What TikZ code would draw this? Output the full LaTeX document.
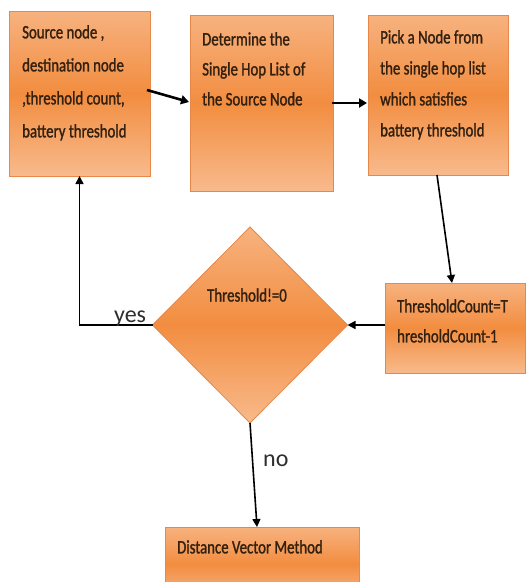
\documentclass[tikz,border=0pt]{standalone}
\usepackage{fontspec}
\setmainfont{Carlito}
\newfontfamily\boxfont[FakeStretch=0.78,FakeBold=1.3]{Carlito}
\usetikzlibrary{shapes.geometric,arrows.meta,calc}
\definecolor{otop}{HTML}{F7B27F}
\definecolor{omid}{HTML}{F28D40}
\definecolor{obot}{HTML}{F8BA8C}
\definecolor{oedge}{HTML}{E5884A}
\definecolor{txt}{HTML}{33200F}
\definecolor{lbl}{HTML}{2E2E2E}
\begin{document}
\begin{tikzpicture}[x=1pt,y=-1pt,
  box/.style={draw=oedge, line width=0.8pt, top color=otop, bottom color=obot, middle color=omid, inner sep=0pt, outer sep=0pt},
  dia/.style={diamond, draw=oedge, line width=0.8pt, top color=otop, bottom color=obot, middle color=omid, inner sep=0pt, outer sep=0pt, minimum width=195pt, minimum height=196pt},
  btxt/.style={anchor=north west, inner sep=0pt, align=left, text=txt},
  flow/.style={draw=black, line width=1.6pt, -{Triangle[length=8pt,width=8pt]}},
  bigflow/.style={draw=black, line width=2.6pt, -{Triangle[length=8pt,width=9pt]}},
  yn/.style={anchor=base west, inner sep=0pt, text=lbl, font=\fontsize{24}{28}\selectfont}
]
\useasboundingbox (0,0) rectangle (531,582);
\clip (0,0) rectangle (531,582);
\fill[white] (0,0) rectangle (531,582);

% boxes
\node[box, minimum width=141pt, minimum height=165pt] (b1) at (79.5,93.5) {};
\node[box, minimum width=143pt, minimum height=176pt] (b2) at (261.5,103) {};
\node[box, minimum width=140pt, minimum height=160pt] (b3) at (438,95) {};
\node[box, minimum width=140pt, minimum height=90pt] (tb) at (455,328) {};
\node[dia] (d) at (250,325) {};
\node[box, minimum width=194pt, minimum height=74pt] (db) at (262,564) {};

% texts
\node[btxt, font=\boxfont\fontsize{19}{33}\selectfont] (t1) at (22,25)
  {Source node ,\\destination node\\,threshold count,\\battery threshold};
\node[btxt, font=\boxfont\fontsize{19}{30}\selectfont] (t2) at (202,32)
  {Determine the\\Single Hop List of\\the Source Node};
\node[btxt, font=\boxfont\fontsize{19}{31}\selectfont] (t3) at (380,30)
  {Pick a Node from\\the single hop list\\which satisfies\\battery threshold};
\node[btxt, font=\boxfont\fontsize{19}{30}\selectfont] (t4) at (397,299)
  {ThresholdCount=T\\hresholdCount-1};
\node[btxt, font=\boxfont\fontsize{19}{30}\selectfont, anchor=center] (t5) at (247,295)
  {Threshold!=0};
\node[btxt, font=\boxfont\fontsize{19}{30}\selectfont] (t6) at (177,540)
  {Distance Vector Method};

% connectors
\draw[bigflow] ($(b1.north east)+(-3,79)$) -- ($(b2.north west)+(-1,87)$);
\draw[bigflow] ($(b2.north east)+(-1,88)$) -- ($(b3.north west)+(-1,88)$);
\draw[flow] ($(b3.south)+(-1,0)$) -- ($(tb.north)+(-3,0)$);
\draw[flow] (tb.west |- d.east) -- (d.east);
\draw[flow] (d.west) -| (b1.south);
\draw[flow] (d.south) -- ($(db.north)+(-5,0)$);

% labels
\node[yn] (yes) at (114,322) {yes};
\node[yn] (no) at (263,466) {no};
\end{tikzpicture}
\end{document}
